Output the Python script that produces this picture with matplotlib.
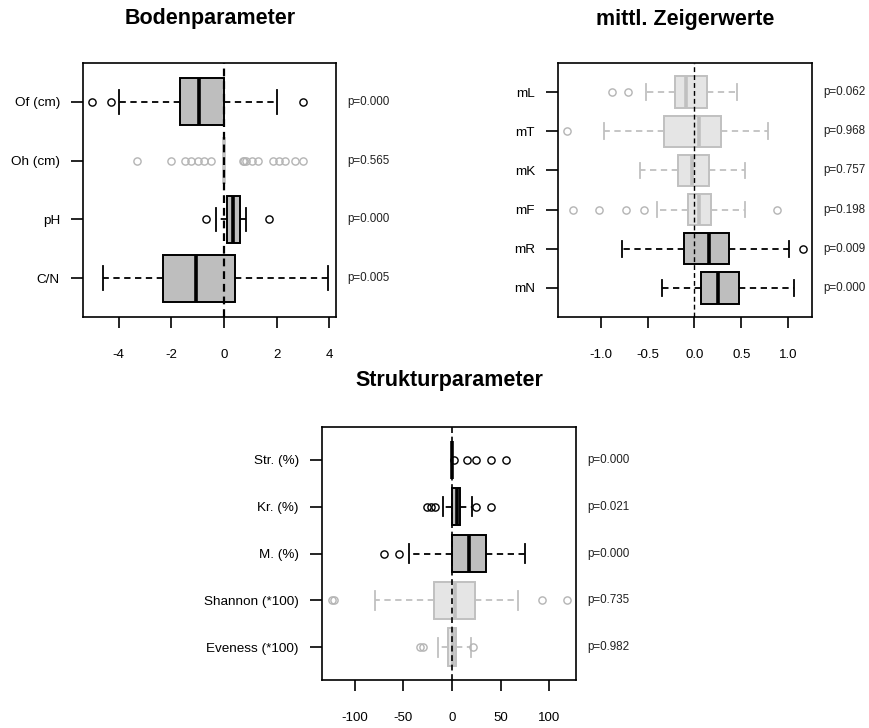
import matplotlib
matplotlib.use("Agg")
import matplotlib.pyplot as plt

plt.rcParams['font.family'] = ['Liberation Sans', 'DejaVu Sans']

# ---------------- data ----------------
boden_labels = ["Of (cm)", "Oh (cm)", "pH", "C/N"]
boden_p = [0.000, 0.565, 0.000, 0.005]
boden_whislo = [-4.0, 0.0, -0.30, -4.6]
boden_q1 = [-1.67, 0.0, 0.10, -2.31]
boden_med = [-0.96, 0.0, 0.32, -1.06]
boden_q3 = [0.0, 0.0, 0.62, 0.43]
boden_whishi = [2.0, 0.0, 0.82, 3.93]
boden_fliers = [[-5.0, -4.3, 3.0],
                [-3.3, -2.0, -1.5, -1.25, -1.0, -0.75, -0.5, 0.7, 0.75, 0.85,
                 1.05, 1.3, 1.85, 2.1, 2.3, 2.7, 3.0],
                [-0.70, 1.72],
                []]
boden_ticks = [-4, -2, 0, 2, 4]
boden_ticklabels = ["-4", "-2", "0", "2", "4"]

zeiger_labels = ["mL", "mT", "mK", "mF", "mR", "mN"]
zeiger_p = [0.062, 0.968, 0.757, 0.198, 0.009, 0.000]
zeiger_whislo = [-0.517, -0.966, -0.578, -0.402, -0.770, -0.342]
zeiger_q1 = [-0.203, -0.324, -0.171, -0.071, -0.107, 0.068]
zeiger_med = [-0.089, 0.053, -0.025, 0.050, 0.150, 0.246]
zeiger_q3 = [0.133, 0.282, 0.150, 0.178, 0.371, 0.478]
zeiger_whishi = [0.457, 0.781, 0.542, 0.542, 1.005, 1.059]
zeiger_fliers = [[-0.883, -0.709], [-1.354], [],
                 [-1.294, -1.023, -0.734, -0.541, 0.881], [1.155], []]
zeiger_ticks = [-1.0, -0.5, 0.0, 0.5, 1.0]
zeiger_ticklabels = ["-1.0", "-0.5", "0.0", "0.5", "1.0"]

struktur_labels = ["Str. (%)", "Kr. (%)", "M. (%)", "Shannon (*100)", "Eveness (*100)"]
struktur_p = [0.000, 0.021, 0.000, 0.735, 0.982]
struktur_whislo = [0.0, -9.6, -44.6, -79.2, -14.7]
struktur_q1 = [0.0, 0.3, 0.3, -18.2, -4.5]
struktur_med = [0.0, 5.0, 17.8, 2.7, 0.7]
struktur_q3 = [0.0, 8.5, 35.3, 23.7, 4.4]
struktur_whishi = [0.0, 20.2, 74.8, 67.9, 19.2]
struktur_fliers = [[1.5, 15, 25, 40, 55],
                   [-26, -22, -18, 25, 40],
                   [-70, -54.5],
                   [-123, -121.5, 92.6, 118],
                   [-33, -29.5, 21.3]]
struktur_ticks = [-100, -50, 0, 50, 100]
struktur_ticklabels = ["-100", "-50", "0", "50", "100"]

# ---------------- figure ----------------
W, H = 869, 728
fig = plt.figure(figsize=(W / 100, H / 100), dpi=100)


def px_axes(x0, y0, x1, y1):
    return fig.add_axes([x0 / W, 1 - y1 / H, (x1 - x0) / W, (y1 - y0) / H])


def panel(ax, labels, pvals, whislo, q1, med, q3, whishi, fliers,
          xlim, xticks, xticklabels, zero_lw):
    n = len(labels)
    positions = list(range(n, 0, -1))
    for i in range(n):
        sig = pvals[i] < 0.05
        line_c = "black" if sig else "#c0c0c0"
        fill_c = "#bebebe" if sig else "#e5e5e5"
        flier_c = "black" if sig else "#b4b4b4"
        stats = [dict(label=labels[i], whislo=whislo[i], q1=q1[i], med=med[i],
                      q3=q3[i], whishi=whishi[i], fliers=fliers[i])]
        kw = dict(positions=[positions[i]], widths=0.8, patch_artist=True,
                  manage_ticks=False,
                  boxprops=dict(facecolor=fill_c, edgecolor=line_c, linewidth=1.4),
                  whiskerprops=dict(color=line_c, linestyle=(0, (3.5, 2.5)), linewidth=1.3),
                  capprops=dict(color=line_c, linewidth=1.3),
                  medianprops=dict(color=line_c, linewidth=2.6, solid_capstyle="butt"),
                  flierprops=dict(marker="o", markerfacecolor="none",
                                  markeredgecolor=flier_c, markersize=5.2,
                                  markeredgewidth=1.0, linestyle="none"))
        try:
            ax.bxp(stats, orientation="horizontal", **kw)
        except TypeError:
            ax.bxp(stats, vert=False, **kw)
    ax.axvline(0, color="black", linestyle=(0, (3.5, 2.2)), linewidth=zero_lw, zorder=6)
    ext = 0.04 * n
    ax.set_ylim(0.5 - ext, n + 0.5 + ext)
    ax.set_yticks(positions)
    ax.set_yticklabels(labels)
    ax.set_xlim(*xlim)
    ax.set_xticks(xticks)
    ax.set_xticklabels(xticklabels)
    ax.tick_params(axis="y", direction="out", length=8.6, width=1.2, pad=8, labelsize=9.7)
    ax.tick_params(axis="x", direction="out", length=8.0, width=1.2, pad=15, labelsize=9.5)
    for s in ax.spines.values():
        s.set_linewidth(1.2)
    for i in range(n):
        ax.annotate("p=%.3f" % pvals[i], xy=(1, positions[i]),
                    xycoords=("axes fraction", "data"), xytext=(8.3, 0),
                    textcoords="offset points", va="center", ha="left",
                    fontsize=8.4, color="#222222", annotation_clip=False)


ax1 = px_axes(83, 63, 336, 317)
panel(ax1, boden_labels, boden_p, boden_whislo, boden_q1, boden_med, boden_q3,
      boden_whishi, boden_fliers, (-5.36, 4.25), boden_ticks, boden_ticklabels, 1.6)

ax2 = px_axes(558, 63, 812, 317)
panel(ax2, zeiger_labels, zeiger_p, zeiger_whislo, zeiger_q1, zeiger_med, zeiger_q3,
      zeiger_whishi, zeiger_fliers, (-1.455, 1.253), zeiger_ticks, zeiger_ticklabels, 1.0)

ax3 = px_axes(322, 427, 576, 680)
panel(ax3, struktur_labels, struktur_p, struktur_whislo, struktur_q1, struktur_med,
      struktur_q3, struktur_whishi, struktur_fliers, (-133.7, 127.4),
      struktur_ticks, struktur_ticklabels, 1.2)

fig.text(210 / W, 1 - 24 / H, "Bodenparameter", ha="center", va="baseline",
         fontsize=15.5, fontweight="bold")
fig.text(685 / W, 1 - 25 / H, "mittl. Zeigerwerte", ha="center", va="baseline",
         fontsize=15.5, fontweight="bold")
fig.text(449 / W, 1 - 386 / H, "Strukturparameter", ha="center", va="baseline",
         fontsize=15.5, fontweight="bold")

fig.savefig("out.png", dpi=100)
